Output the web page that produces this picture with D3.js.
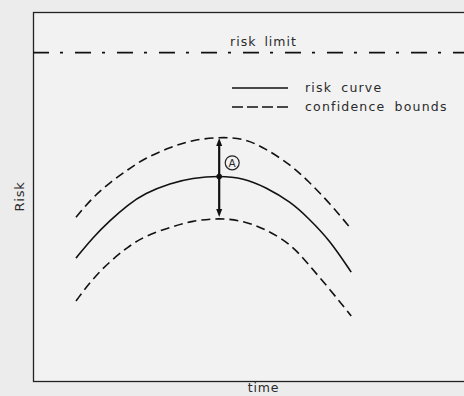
<!DOCTYPE html>
<html>
<head>
<meta charset="utf-8">
<script src="https://cdn.jsdelivr.net/npm/d3@7"></script>
<style>
  html, body { margin: 0; padding: 0; background: #ececec; }
  svg { display: block; }
  text { font-family: "DejaVu Sans", "Liberation Sans", sans-serif; fill: #2a2a2a; }
</style>
</head>
<body>
<svg id="chart" width="464" height="396"></svg>
<script>
// Time samples along the horizontal axis
const time = [1.0, 1.4, 1.8, 2.2, 2.6, 3.2, 3.7, 4.33, 4.9, 5.4, 6.0, 6.4, 6.9, 7.4];
// Estimated risk and its confidence bounds at each time
const riskCurve = [3.33, 3.90, 4.36, 4.77, 5.09, 5.36, 5.50, 5.56, 5.50, 5.26, 4.85, 4.42, 3.82, 2.95];
const upperBound = [4.44, 4.99, 5.39, 5.72, 6.04, 6.34, 6.53, 6.61, 6.58, 6.31, 5.85, 5.42, 4.82, 4.12];
const lowerBound = [2.17, 2.79, 3.25, 3.63, 3.93, 4.17, 4.34, 4.42, 4.34, 4.12, 3.71, 3.17, 2.49, 1.76];
// Acceptable risk threshold
const riskLimit = 8.9;
// Highlighted moment (peak risk), labelled A
const markTime = 4.33;
const markLabel = "A";
const legendLabels = ["risk curve", "confidence bounds"];

const svg = d3.select("#chart");
const plotLeft = 33, plotRight = 467, plotTop = 12, plotBottom = 381;

const x = d3.scaleLinear().domain([0, 10]).range([plotLeft, plotLeft + 430]);
const y = d3.scaleLinear().domain([0, 10]).range([plotBottom, plotTop]);

// plot area background
svg.append("rect")
  .attr("x", plotLeft).attr("y", plotTop)
  .attr("width", plotRight - plotLeft).attr("height", plotBottom - plotTop)
  .attr("fill", "#f2f2f2");

// frame (right edge runs past the view)
svg.append("rect")
  .attr("x", plotLeft + 0.5).attr("y", plotTop + 0.5)
  .attr("width", plotRight - plotLeft).attr("height", plotBottom - plotTop)
  .attr("fill", "none").attr("stroke", "#222").attr("stroke-width", 1.3);

// risk limit line
svg.append("line")
  .attr("x1", plotLeft).attr("x2", 464)
  .attr("y1", y(riskLimit)).attr("y2", y(riskLimit))
  .attr("stroke", "#111").attr("stroke-width", 1.8)
  .attr("stroke-dasharray", "16,11,3,12");
svg.append("text")
  .attr("x", x(5.36)).attr("y", y(riskLimit) - 7)
  .attr("text-anchor", "middle")
  .attr("font-size", 12.5).attr("letter-spacing", 1)
  .attr("word-spacing", 3)
  .text("risk limit");

const line = (vals) => d3.line()
  .x((d, i) => x(time[i]))
  .y(d => y(d))
  .curve(d3.curveBasis)(vals);

// confidence bounds
[upperBound, lowerBound].forEach(vals => {
  svg.append("path")
    .attr("d", line(vals))
    .attr("fill", "none").attr("stroke", "#111")
    .attr("stroke-width", 1.6)
    .attr("stroke-dasharray", "9,5");
});

// risk curve
svg.append("path")
  .attr("d", line(riskCurve))
  .attr("fill", "none").attr("stroke", "#111")
  .attr("stroke-width", 1.6);

// uncertainty interval at the marked time
const mi = time.indexOf(markTime);
const mx = x(markTime);
svg.append("line")
  .attr("x1", mx).attr("x2", mx)
  .attr("y1", y(upperBound[mi]) + 6).attr("y2", y(lowerBound[mi]) - 6)
  .attr("stroke", "#111").attr("stroke-width", 2.2);
const head = (yTip, dir) => {
  svg.append("path")
    .attr("d", `M${mx},${yTip} L${mx - 3},${yTip + dir * 8} L${mx + 3},${yTip + dir * 8} Z`)
    .attr("fill", "#111");
};
head(y(upperBound[mi]) + 1, 1);
head(y(lowerBound[mi]) - 1, -1);

// point on the curve
svg.append("circle")
  .attr("cx", mx).attr("cy", y(riskCurve[mi]) + 0.6)
  .attr("r", 2.8).attr("fill", "#111");

// label A
const ax = mx + 13, ay = y(riskCurve[mi]) - 13;
svg.append("circle")
  .attr("cx", ax).attr("cy", ay).attr("r", 7)
  .attr("fill", "none").attr("stroke", "#222").attr("stroke-width", 1.2);
svg.append("text")
  .attr("x", ax).attr("y", ay + 3.7)
  .attr("text-anchor", "middle")
  .attr("font-size", 10.5)
  .text(markLabel);

// legend
const lg = svg.append("g").attr("transform", "translate(232,0)");
lg.append("line")
  .attr("x1", 0).attr("x2", 56).attr("y1", 88).attr("y2", 88)
  .attr("stroke", "#111").attr("stroke-width", 1.6);
lg.append("line")
  .attr("x1", 0).attr("x2", 56).attr("y1", 107).attr("y2", 107)
  .attr("stroke", "#111").attr("stroke-width", 1.6)
  .attr("stroke-dasharray", "11,4");
legendLabels.forEach((t, i) => {
  lg.append("text")
    .attr("x", 73).attr("y", 92 + i * 19)
    .attr("font-size", 12.5).attr("letter-spacing", 1.2)
    .attr("word-spacing", 4)
    .text(t);
});

// axis titles
svg.append("text")
  .attr("transform", `translate(24,${y(5.0)}) rotate(-90)`)
  .attr("text-anchor", "middle")
  .attr("font-size", 13).attr("letter-spacing", 0.8)
  .text("Risk");
svg.append("text")
  .attr("x", x(5.36)).attr("y", 392)
  .attr("text-anchor", "middle")
  .attr("font-size", 12.5).attr("letter-spacing", 0.8)
  .text("time");
</script>
</body>
</html>
